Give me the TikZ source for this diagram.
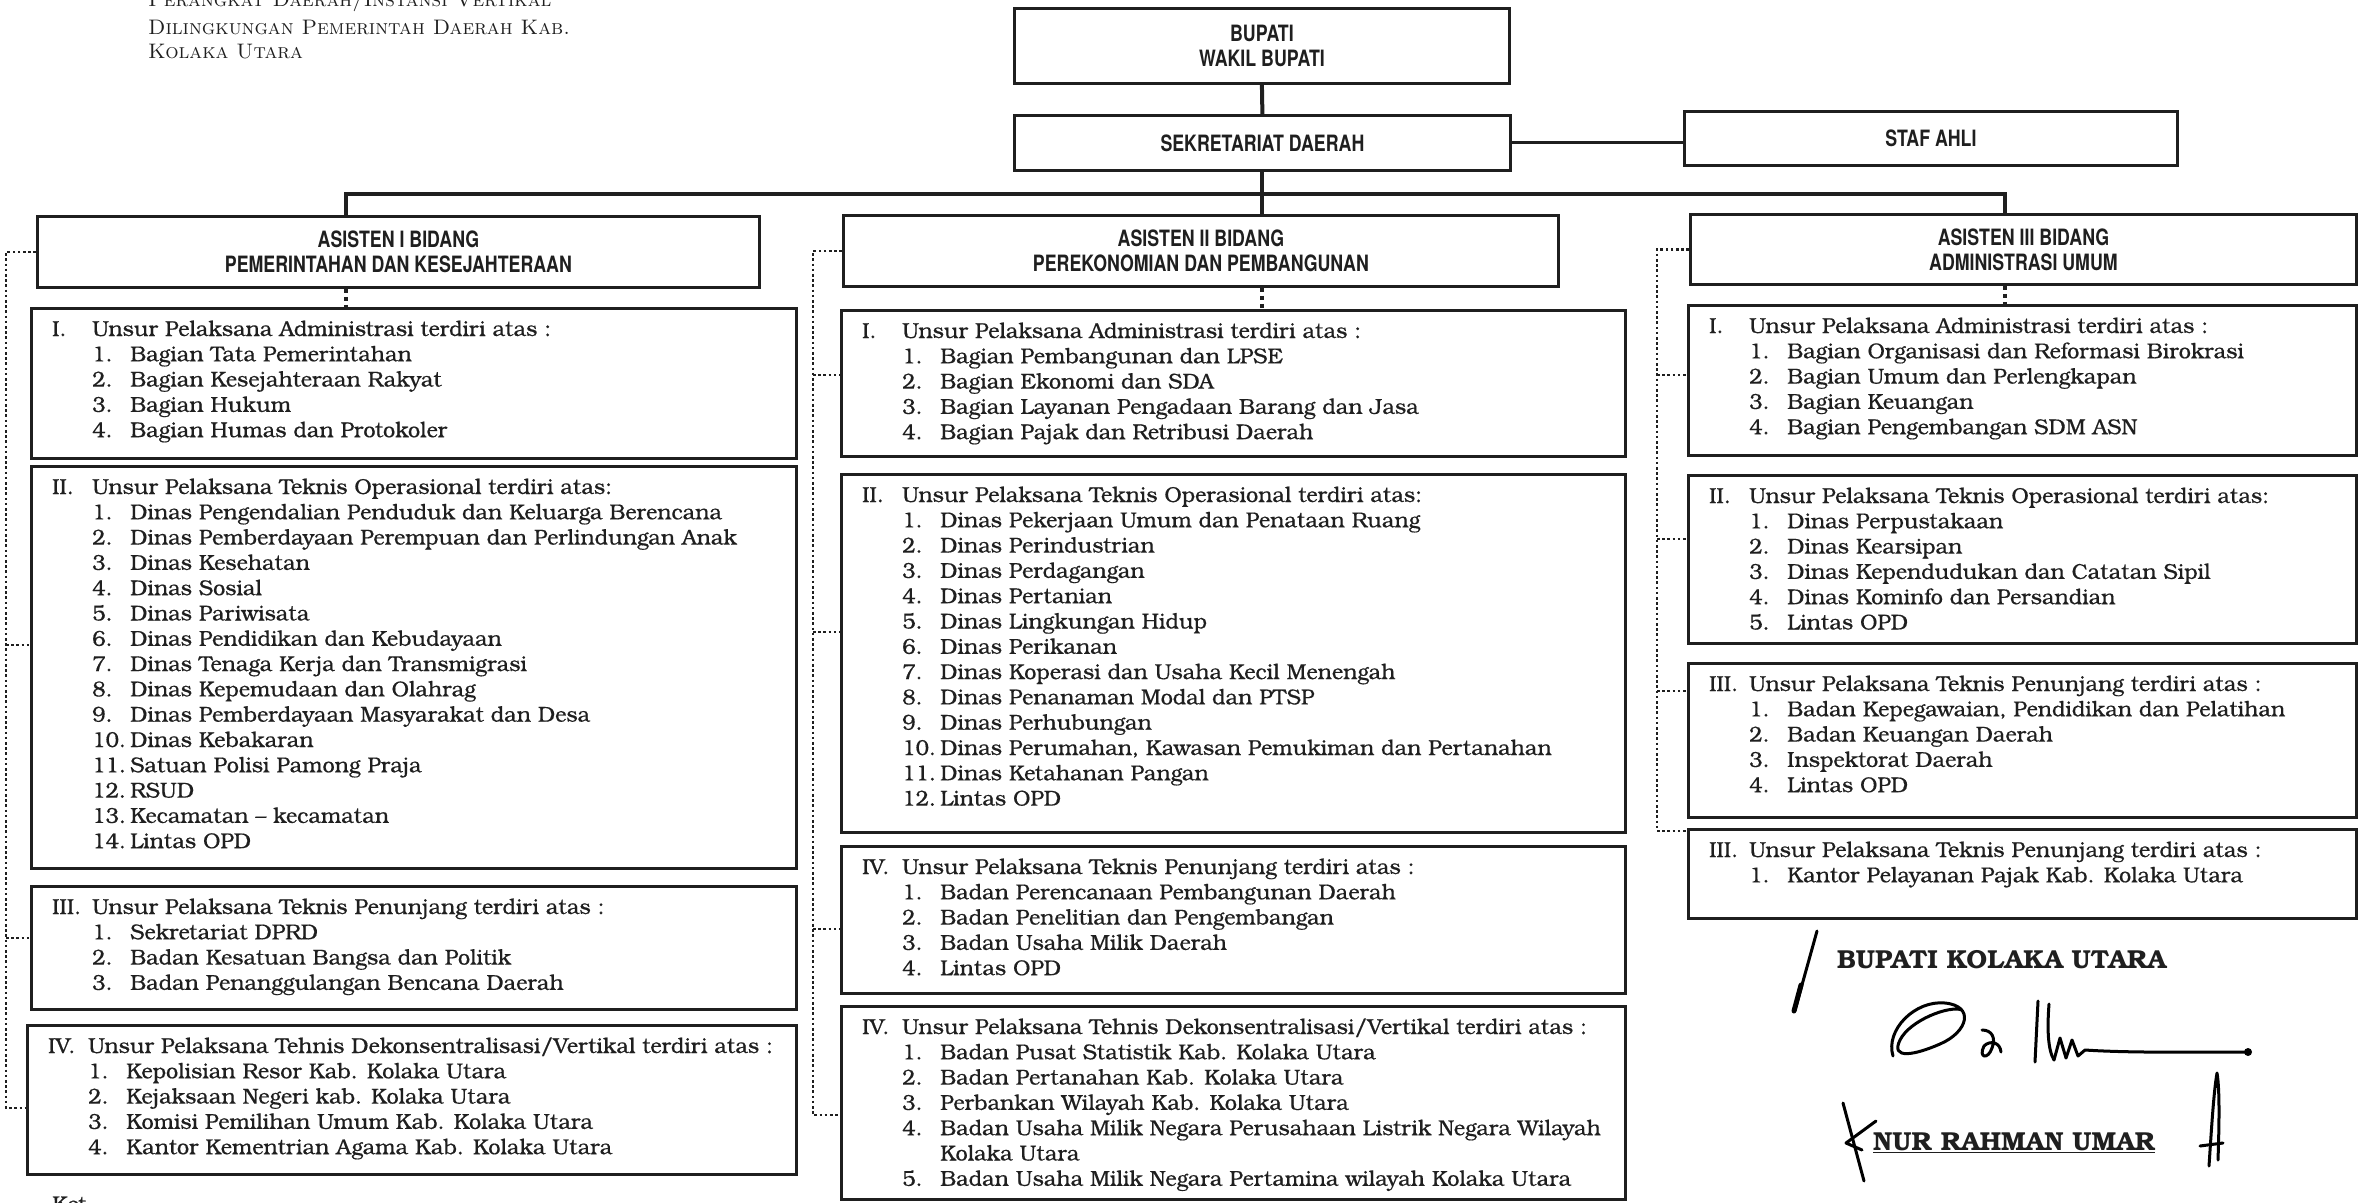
\documentclass[tikz,border=0pt]{standalone}
\usepackage{fontspec}
\usetikzlibrary{calc}
\newfontfamily\bonum[Extension=.otf,UprightFont=*-regular,BoldFont=*-bold,UprightFeatures={FakeBold=0.5}]{texgyrebonum}
\newfontfamily\hdrfont[FakeStretch=0.79]{TeX Gyre Heros}
\definecolor{ink}{HTML}{1F1F1F}

\tikzset{
  kotak/.style={draw=ink, line width=2.8pt, anchor=north west, inner sep=0pt},
  judul/.style={kotak, align=center, text=ink, font=\hdrfont\bfseries\fontsize{22.5}{25}\selectfont},
  baris/.style={anchor=west, inner sep=0pt, text height=16pt, text depth=6pt, text=ink, font=\bonum\fontsize{21.6}{25}\selectfont},
  atas/.style={anchor=west, inner sep=0pt, text=ink, font=\fontsize{21}{25}\selectfont\scshape},
  garis/.style={draw=ink, line width=4pt},
  titik/.style={draw=ink, line width=4pt, dash pattern=on 4pt off 4pt},
  spine/.style={draw=ink, line width=2.8pt, dash pattern=on 2.6pt off 2.6pt},
  ttd/.style={draw=black, line width=3pt, line cap=round, line join=round},
}

\newcommand{\unsur}[4]{%
  \node[baris] (#1-r) at ($(#1.north west)+(22,-24)$) {#2};
  \node[baris] (#1-h) at ($(#1.north west)+(62,-24)$) {#3};
  \foreach \no/\isi [count=\k] in {#4} {
    \node[baris] (#1-n\k) at ($(#1.north west)+(62,-24-25.3*\k)$) {\no};
    \node[baris] (#1-i\k) at ($(#1.north west)+(100,-24-25.3*\k)$) {\isi};
  }}

\begin{document}
\begin{tikzpicture}[x=1pt,y=1pt]
\fill[white] (0,0) rectangle (2358,-1202);
\clip (0,0) rectangle (2358,-1202);

\node[atas] (t1) at (148,-1) {Perangkat Daerah/Instansi Vertikal};
\node[atas] (t2) at (148,-27) {Dilingkungan Pemerintah Daerah Kab.};
\node[atas] (t3) at (148,-52) {Kolaka Utara};

\node[judul, minimum width=495pt, minimum height=75pt] (bupati) at (1013,-7) {BUPATI\\WAKIL BUPATI};
\node[judul, minimum width=496pt, minimum height=55pt] (sekda) at (1013,-114) {SEKRETARIAT DAERAH};
\node[judul, minimum width=493pt, minimum height=54pt] (staf) at (1683,-110) {STAF AHLI};

\node[judul, minimum width=722pt, minimum height=71pt] (hA) at (36,-215) {ASISTEN I BIDANG\\PEMERINTAHAN DAN KESEJAHTERAAN};
\node[judul, minimum width=715pt, minimum height=71pt] (hB) at (842,-214) {ASISTEN II BIDANG\\PEREKONOMIAN DAN PEMBANGUNAN};
\node[judul, minimum width=666pt, minimum height=70pt] (hC) at (1689,-213) {ASISTEN III BIDANG\\ADMINISTRASI UMUM};

\draw[garis] (bupati.south) -- (sekda.north);
\draw[garis, line width=3pt] (sekda.east) -- (sekda.east -| staf.west);
\draw[garis] (sekda.south) -- (sekda.south |- hB.north);
\coordinate (jA) at (346,-194);
\coordinate (jC) at (2005,-194);
\draw[garis] (jA |- hA.north) -- (jA) -- (jC) -- (jC |- hC.north);

\node[kotak, minimum width=765pt, minimum height=150pt] (L1) at (30,-307) {};
\node[kotak, minimum width=765pt, minimum height=402pt] (L2) at (30,-465) {};
\node[kotak, minimum width=765pt, minimum height=123pt] (L3) at (30,-885) {};
\node[kotak, minimum width=769pt, minimum height=149pt] (L4) at (26,-1024) {};

\node[kotak, minimum width=784pt, minimum height=146pt] (M1) at (840,-309) {};
\node[kotak, minimum width=784pt, minimum height=358pt] (M2) at (840,-473) {};
\node[kotak, minimum width=784pt, minimum height=147pt] (M3) at (840,-845) {};
\node[kotak, minimum width=784pt, minimum height=193pt] (M4) at (840,-1005) {};

\node[kotak, minimum width=668pt, minimum height=150pt] (R1) at (1687,-304) {};
\node[kotak, minimum width=668pt, minimum height=168pt] (R2) at (1687,-474) {};
\node[kotak, minimum width=668pt, minimum height=154pt] (R3) at (1687,-662) {};
\node[kotak, minimum width=668pt, minimum height=89pt] (R4) at (1687,-828) {};

\draw[titik] (hA.south -| jA) -- (L1.north -| jA);
\draw[titik] (hB.south -| sekda.south) -- (M1.north -| sekda.south);
\draw[titik] (hC.south -| jC) -- (R1.north -| jC);

\coordinate (tL2) at (6,-645);
\coordinate (tL3) at (6,-938);
\coordinate (tL4) at (6,-1108);
\draw[spine] (hA.west) -| (tL4) -- (tL4 -| L4.west);
\draw[spine] (tL2) -- (tL2 -| L2.west);
\draw[spine] (tL3) -- (tL3 -| L3.west);

\coordinate (tM1) at (813,-375);
\coordinate (tM2) at (813,-632);
\coordinate (tM3) at (813,-929);
\coordinate (tM4) at (813,-1115);
\draw[spine] (hB.west) -| (tM4) -- (tM4 -| M4.west);
\draw[spine] (tM1) -- (tM1 -| M1.west);
\draw[spine] (tM2) -- (tM2 -| M2.west);
\draw[spine] (tM3) -- (tM3 -| M3.west);

\coordinate (tR1) at (1657,-375);
\coordinate (tR2) at (1657,-539);
\coordinate (tR3) at (1657,-691);
\coordinate (tR4) at (1657,-831);
\draw[spine] (hC.west) -| (tR4) -- (tR4 -| R4.west);
\draw[spine] (tR1) -- (tR1 -| R1.west);
\draw[spine] (tR2) -- (tR2 -| R2.west);
\draw[spine] (tR3) -- (tR3 -| R3.west);

\unsur{L1}{I.}{Unsur Pelaksana Administrasi terdiri atas :}{1./Bagian Tata Pemerintahan, 2./Bagian Kesejahteraan Rakyat, 3./Bagian Hukum, 4./Bagian Humas dan Protokoler}
\unsur{L2}{II.}{Unsur Pelaksana Teknis Operasional terdiri atas:}{1./Dinas Pengendalian Penduduk dan Keluarga Berencana, 2./Dinas Pemberdayaan Perempuan dan Perlindungan Anak, 3./Dinas Kesehatan, 4./Dinas Sosial, 5./Dinas Pariwisata, 6./Dinas Pendidikan dan Kebudayaan, 7./Dinas Tenaga Kerja dan Transmigrasi, 8./Dinas Kepemudaan dan Olahrag, 9./Dinas Pemberdayaan Masyarakat dan Desa, 10./Dinas Kebakaran, 11./Satuan Polisi Pamong Praja, 12./RSUD, 13./Kecamatan – kecamatan, 14./Lintas OPD}
\unsur{L3}{III.}{Unsur Pelaksana Teknis Penunjang terdiri atas :}{1./Sekretariat DPRD, 2./Badan Kesatuan Bangsa dan Politik, 3./Badan Penanggulangan Bencana Daerah}
\unsur{L4}{IV.}{Unsur Pelaksana Tehnis Dekonsentralisasi/Vertikal terdiri atas :}{1./Kepolisian Resor Kab. Kolaka Utara, 2./Kejaksaan Negeri kab. Kolaka Utara, 3./Komisi Pemilihan Umum Kab. Kolaka Utara, 4./Kantor Kementrian Agama Kab. Kolaka Utara}

\unsur{M1}{I.}{Unsur Pelaksana Administrasi terdiri atas :}{1./Bagian Pembangunan dan LPSE, 2./Bagian Ekonomi dan SDA, 3./Bagian Layanan Pengadaan Barang dan Jasa, 4./Bagian Pajak dan Retribusi Daerah}
\unsur{M2}{II.}{Unsur Pelaksana Teknis Operasional terdiri atas:}{1./Dinas Pekerjaan Umum dan Penataan Ruang, 2./Dinas Perindustrian, 3./Dinas Perdagangan, 4./Dinas Pertanian, 5./Dinas Lingkungan Hidup, 6./Dinas Perikanan, 7./Dinas Koperasi dan Usaha Kecil Menengah, 8./Dinas Penanaman Modal dan PTSP, 9./Dinas Perhubungan, 10./{Dinas Perumahan, Kawasan Pemukiman dan Pertanahan}, 11./Dinas Ketahanan Pangan, 12./Lintas OPD}
\unsur{M3}{IV.}{Unsur Pelaksana Teknis Penunjang terdiri atas :}{1./Badan Perencanaan Pembangunan Daerah, 2./Badan Penelitian dan Pengembangan, 3./Badan Usaha Milik Daerah, 4./Lintas OPD}
\unsur{M4}{IV.}{Unsur Pelaksana Tehnis Dekonsentralisasi/Vertikal terdiri atas :}{1./Badan Pusat Statistik Kab. Kolaka Utara, 2./Badan Pertanahan Kab. Kolaka Utara, 3./Perbankan Wilayah Kab. Kolaka Utara, 4./Badan Usaha Milik Negara Perusahaan Listrik Negara Wilayah, /Kolaka Utara, 5./Badan Usaha Milik Negara Pertamina wilayah Kolaka Utara}

\unsur{R1}{I.}{Unsur Pelaksana Administrasi terdiri atas :}{1./Bagian Organisasi dan Reformasi Birokrasi, 2./Bagian Umum dan Perlengkapan, 3./Bagian Keuangan, 4./Bagian Pengembangan SDM ASN}
\unsur{R2}{II.}{Unsur Pelaksana Teknis Operasional terdiri atas:}{1./Dinas Perpustakaan, 2./Dinas Kearsipan, 3./Dinas Kependudukan dan Catatan Sipil, 4./Dinas Kominfo dan Persandian, 5./Lintas OPD}
\unsur{R3}{III.}{Unsur Pelaksana Teknis Penunjang terdiri atas :}{1./{Badan Kepegawaian, Pendidikan dan Pelatihan}, 2./Badan Keuangan Daerah, 3./Inspektorat Daerah, 4./Lintas OPD}
\unsur{R4}{III.}{Unsur Pelaksana Teknis Penunjang terdiri atas :}{1./Kantor Pelayanan Pajak Kab. Kolaka Utara}

\node[baris, anchor=north west] (ket) at (52,-1195) {Ket};

\node[anchor=west, inner sep=0pt, text=ink, font=\bonum\bfseries\fontsize{26}{30}\selectfont] (jabatan) at (1837,-960) {BUPATI KOLAKA UTARA};
\node[anchor=west, inner sep=0pt, text=ink, font=\bonum\bfseries\fontsize{26}{30}\selectfont] (nama) at (1873,-1143) {\underline{NUR RAHMAN UMAR}};

\draw[ttd] (1817,-931) -- (1795,-1010);
\draw[ttd, line width=5pt] (1801,-985) -- (1794,-1011);
\draw[ttd] (1893,-1056) .. controls (1885,-1030) and (1915,-1000) .. (1945,-1003)
  .. controls (1975,-1006) and (1968,-1032) .. (1940,-1044)
  .. controls (1915,-1055) and (1890,-1060) .. (1900,-1040)
  .. controls (1910,-1020) and (1950,-1005) .. (1962,-1010);
\draw[ttd] (1982,-1030) .. controls (1992,-1030) and (1996,-1038) .. (1992,-1048)
  .. controls (1988,-1060) and (1978,-1058) .. (1984,-1046) .. controls (1990,-1040) and (2000,-1042) .. (2001,-1052);
\draw[ttd] (2038,-1001) -- (2035,-1062);
\draw[ttd] (2049,-1004) .. controls (2047,-1030) and (2048,-1050) .. (2054,-1060);
\draw[ttd] (2054,-1060) -- (2060,-1038) -- (2066,-1058) -- (2072,-1040) -- (2078,-1056) -- (2085,-1050)
  .. controls (2130,-1053) and (2190,-1052) .. (2248,-1052);
\fill[black] (2248,-1052) circle (4pt);
\draw[ttd] (1843,-1103) -- (1864,-1181);
\draw[ttd] (1876,-1121) -- (1846,-1143) -- (1862,-1150);
\draw[ttd] (2209,-1166) .. controls (2212,-1120) and (2214,-1090) .. (2217,-1073)
  .. controls (2220,-1090) and (2219,-1130) .. (2218,-1160);
\draw[ttd] (2200,-1146) -- (2223,-1143);
\end{tikzpicture}
\end{document}
